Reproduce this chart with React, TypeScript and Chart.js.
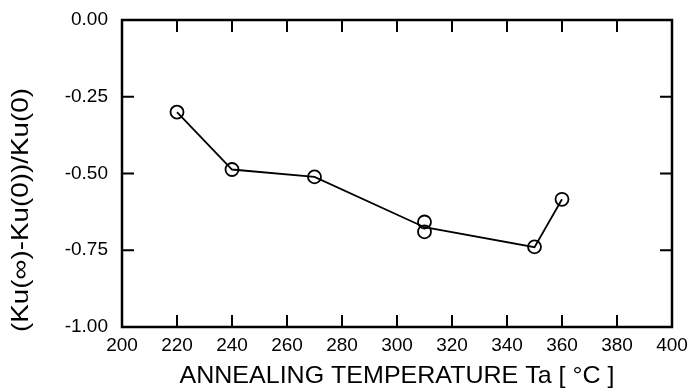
import { useEffect, useRef } from "react";
import { Chart, registerables } from "chart.js";

Chart.register(...registerables);

// Measured circles (annealing temperature in °C, anisotropy change ratio)
const temperatures = [220, 240, 270, 310, 310, 350, 360];
const ratios = [-0.3, -0.487, -0.511, -0.658, -0.69, -0.739, -0.584];

// Connecting line (passes between the two 310 °C points)
const lineTemperatures = [220, 240, 270, 310, 350, 360];
const lineRatios = [-0.3, -0.487, -0.511, -0.675, -0.74, -0.584];

// Axis ticks
const xMin = 200;
const xMax = 400;
const xStep = 20;
const yMin = -1;
const yMax = 0;
const yStep = 0.25;
const xInnerTicks = [220, 240, 260, 280, 300, 320, 340, 360, 380];
const yInnerTicks = [-0.25, -0.5, -0.75];

const xTitle = "ANNEALING TEMPERATURE Ta [ °C ]";
const yTitle = "(Ku(∞)-Ku(0))/Ku(0)";

const FONT = '"Liberation Sans", Arial, sans-serif';

const framePlugin = {
  id: "frameAndTitles",
  afterDraw(chart: any) {
    const { ctx, chartArea: a, scales } = chart;
    ctx.save();
    ctx.strokeStyle = "#000";
    ctx.lineWidth = 2.5;
    ctx.strokeRect(a.left, a.top, a.right - a.left, a.bottom - a.top);
    ctx.lineWidth = 2;
    const tl = 12;
    ctx.beginPath();
    for (const v of xInnerTicks) {
      const px = scales.x.getPixelForValue(v);
      ctx.moveTo(px, a.bottom);
      ctx.lineTo(px, a.bottom - tl);
      ctx.moveTo(px, a.top);
      ctx.lineTo(px, a.top + tl);
    }
    for (const v of yInnerTicks) {
      const py = scales.y.getPixelForValue(v);
      ctx.moveTo(a.left, py);
      ctx.lineTo(a.left + tl, py);
      ctx.moveTo(a.right, py);
      ctx.lineTo(a.right - tl, py);
    }
    ctx.stroke();

    // X title
    ctx.fillStyle = "#000";
    ctx.font = `24px ${FONT}`;
    ctx.textAlign = "center";
    ctx.textBaseline = "alphabetic";
    let w = ctx.measureText(xTitle).width;
    ctx.save();
    ctx.translate((a.left + a.right) / 2, 383);
    ctx.scale(435 / w, 1);
    ctx.fillText(xTitle, 0, 0);
    ctx.restore();

    // Y title
    ctx.font = `24px ${FONT}`;
    w = ctx.measureText(yTitle).width;
    ctx.save();
    ctx.translate(21, 210);
    ctx.rotate(-Math.PI / 2);
    ctx.scale(244 / w, 1);
    ctx.textBaseline = "middle";
    ctx.fillText(yTitle, 0, 0);
    ctx.restore();

    ctx.restore();
  },
};

export default function App() {
  const ref = useRef<HTMLCanvasElement | null>(null);

  useEffect(() => {
    if (!ref.current) return;
    const chart = new Chart(ref.current, {
      type: "scatter",
      data: {
        datasets: [
          {
            type: "line",
            data: lineTemperatures.map((x, i) => ({ x, y: lineRatios[i] })),
            borderColor: "#000",
            borderWidth: 1.8,
            pointRadius: 0,
            fill: false,
            tension: 0,
          } as any,
          {
            type: "scatter",
            data: temperatures.map((x, i) => ({ x, y: ratios[i] })),
            pointStyle: "circle",
            pointRadius: 6.5,
            pointBorderWidth: 1.8,
            borderColor: "#000",
            backgroundColor: "rgba(0,0,0,0)",
          } as any,
        ],
      },
      options: {
        animation: false,
        responsive: true,
        maintainAspectRatio: false,
        devicePixelRatio: 1,
        layout: { padding: { top: 20, right: 18, left: 0, bottom: 0 } },
        plugins: {
          legend: { display: false },
          tooltip: { enabled: false },
        },
        scales: {
          x: {
            type: "linear",
            min: xMin,
            max: xMax,
            grid: { display: false, drawTicks: false, tickLength: 0 },
            border: { display: false },
            ticks: {
              stepSize: xStep,
              color: "#000",
              font: { family: FONT, size: 19 },
              padding: 7,
            },
            afterFit(scale: any) {
              scale.height = 63;
              scale.paddingLeft = 0;
              scale.paddingRight = 0;
            },
          },
          y: {
            type: "linear",
            min: yMin,
            max: yMax,
            grid: { display: false, drawTicks: false, tickLength: 0 },
            border: { display: false },
            ticks: {
              stepSize: yStep,
              color: "#000",
              font: { family: FONT, size: 19 },
              padding: 14,
              callback: (v: any) => Number(v).toFixed(2),
            },
            afterFit(scale: any) {
              scale.width = 122;
              scale.paddingTop = 0;
              scale.paddingBottom = 0;
            },
          },
        },
      },
      plugins: [framePlugin],
    });
    return () => chart.destroy();
  }, []);

  return (
    <div style={{ position: "fixed", left: 0, top: 0, width: 690, height: 390, background: "#fff" }}>
      <canvas ref={ref} />
    </div>
  );
}
